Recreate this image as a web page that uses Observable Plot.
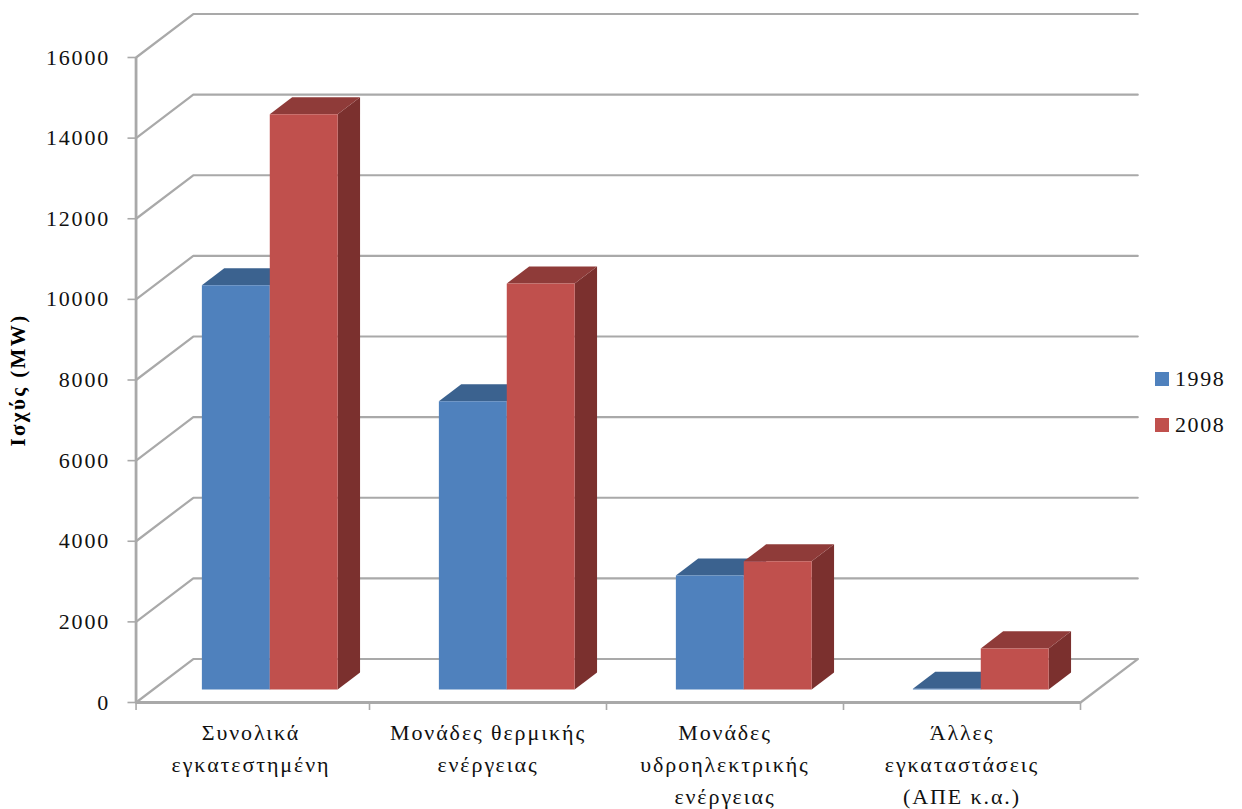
<!DOCTYPE html>
<html>
<head>
<meta charset="utf-8">
<script src="https://cdn.jsdelivr.net/npm/d3@7"></script>
<script src="https://cdn.jsdelivr.net/npm/@observablehq/plot@0.6"></script>
<style>
  html, body { margin: 0; background: #fff; }
  #chart { position: relative; width: 1242px; height: 809px; overflow: hidden; }
  #chart svg text { letter-spacing: 1.8px; }
  #chart svg .cat text { letter-spacing: 1.9px; }
  #chart svg .ytitle text { letter-spacing: 2.4px; }
  .legend { position: absolute; left: 1155px; font: 22px "Liberation Serif", serif; letter-spacing: 1.6px; color: #111; display: flex; align-items: center; gap: 6px; height: 24px; }
  .legend i { display: block; width: 14px; height: 14px; }
</style>
</head>
<body>
<div id="chart"></div>
<script>
// Installed capacity in Greece by type of plant, 1998 and 2008 (MW)
const categories = [
  "Συνολικά\nεγκατεστημένη",
  "Μονάδες θερμικής\nενέργειας",
  "Μονάδες\nυδροηλεκτρικής\nενέργειας",
  "Άλλες\nεγκαταστάσεις\n(ΑΠΕ κ.α.)"
];
const values1998 = [10030, 7150, 2830, 20];
const values2008 = [14270, 10070, 3180, 1020];
const yTicks = [0, 2000, 4000, 6000, 8000, 10000, 12000, 14000, 16000];
const yLabel = "Ισχύς (MW)";

const series = [
  {name: "1998", values: values1998, front: "#4f81bd", top: "#3b628f", side: "#335580", slot: 0},
  {name: "2008", values: values2008, front: "#c0504d", top: "#8f3b39", side: "#7b302e", slot: 1}
];

// Oblique projection: depth d runs from 0 (front of the floor) to 1 (back wall)
const depthX = 0.2415; // category widths
const depthY = 1079;   // MW
const at = (x, v, d) => ({x: x + d * depthX, y: v + d * depthY});

// The value axis sits just inside the first category
const axisStart = 0.015;
const barStart = 0.2205, barWidth = 0.2865, barFront = 0.299, barBack = 0.69;
const gridColor = "#a9a9a9", gridWidth = 2.2;

// Wall and floor lines
const gridLines = yTicks.flatMap((v) => [
  {...at(axisStart, v, 0), id: v},
  {...at(axisStart, v, 1), id: v},
  {...at(categories.length, v, 1), id: v}
]);
const floorEdge = [at(categories.length, 0, 1), at(categories.length, 0, 0)];

// Three visible faces of a bar, each a closed polygon
function faces(s, face) {
  return s.values.flatMap((v, i) => {
    const x0 = i + barStart + s.slot * barWidth, x1 = x0 + barWidth;
    const corners = {
      front: [at(x0, 0, barFront), at(x1, 0, barFront), at(x1, v, barFront), at(x0, v, barFront)],
      top: [at(x0, v, barFront), at(x1, v, barFront), at(x1, v, barBack), at(x0, v, barBack)],
      side: [at(x1, 0, barFront), at(x1, 0, barBack), at(x1, v, barBack), at(x1, v, barFront)]
    };
    return corners[face].map((p) => ({...p, id: i}));
  });
}

const barMarks = series.flatMap((s) => ["side", "top", "front"].map((face) =>
  Plot.line(faces(s, face), {x: "x", y: "y", z: "id", fill: s[face], stroke: "none", curve: "linear-closed"})
));

const font = "'Liberation Serif', serif";

const plot = Plot.plot({
  width: 1242,
  height: 809,
  marginLeft: 132,
  marginRight: 162,
  marginTop: 57,
  marginBottom: 107,
  style: {fontFamily: font, background: "#fff", overflow: "visible"},
  x: {domain: [0, categories.length]},
  y: {domain: [0, 16000]},
  marks: [
    Plot.line(gridLines, {x: "x", y: "y", z: "id", stroke: gridColor, strokeWidth: gridWidth}),
    Plot.line(floorEdge, {x: "x", y: "y", stroke: gridColor, strokeWidth: gridWidth}),
    Plot.ruleY([0], {x1: axisStart, x2: categories.length, stroke: gridColor, strokeWidth: gridWidth + 0.6}),
    Plot.ruleX([axisStart], {y1: 0, y2: 16000, stroke: gridColor, strokeWidth: gridWidth + 0.6}),
    ...barMarks,
    Plot.axisY({
      ticks: yTicks, tickSize: 8, tickPadding: 18, dx: 3.5, tickFormat: (d) => String(d),
      stroke: gridColor, strokeWidth: 1.6, fontSize: 22, color: "#111", label: null
    }),
    Plot.axisX({
      ticks: [axisStart, 1, 2, 3, 4], tickSize: 8, tickFormat: () => "",
      stroke: gridColor, strokeWidth: 1.6, label: null
    }),
    Plot.text(categories, {
      x: (d, i) => i + 0.5,
      y: 0,
      text: (d) => d,
      dy: 15,
      lineAnchor: "top",
      lineHeight: 1.45,
      fontSize: 22,
      fill: "#111",
      className: "cat"
    }),
    Plot.text([yLabel], {
      frameAnchor: "left", textAnchor: "middle", rotate: -90, dx: -114,
      fontWeight: "bold", fontSize: 21, fill: "#000", className: "ytitle"
    })
  ]
});

const chart = document.getElementById("chart");
chart.appendChild(plot);

// Series key, to the right of the plot
series.forEach((s, i) => {
  const row = document.createElement("div");
  row.className = "legend";
  row.style.top = (367 + i * 46) + "px";
  const swatch = document.createElement("i");
  swatch.style.background = s.front;
  row.appendChild(swatch);
  row.appendChild(document.createTextNode(s.name));
  chart.appendChild(row);
});
</script>
</body>
</html>
